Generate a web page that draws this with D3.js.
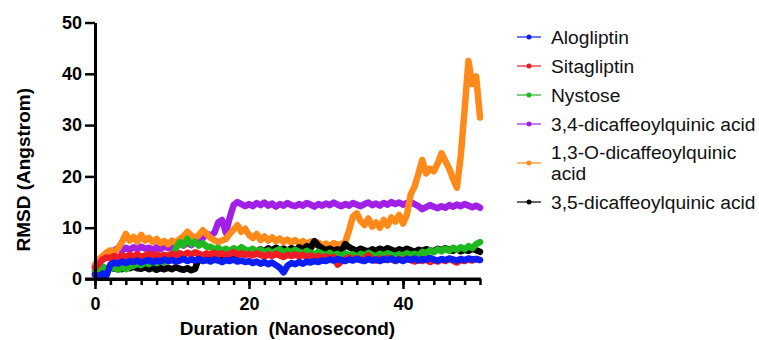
<!DOCTYPE html>
<html>
<head>
<meta charset="utf-8">
<script src="https://cdn.jsdelivr.net/npm/d3@7"></script>
<style>
  html, body { margin: 0; padding: 0; background: #fff; }
  svg { display: block; font-family: "Liberation Sans", Arial, sans-serif; }
</style>
</head>
<body>
<svg id="chart" width="759" height="340"></svg>
<script>
// ---- data (RMSD in Angstrom, sampled every 0.5 ns from 0 to 50 ns) ----
const timeNs = d3.range(101).map(i => i / 2);

const alogliptin = [
  0.8,0.6,1.0,0.7,2.8,3.2,3.0,3.4,3.1,3.5,
  3.3,3.6,3.2,3.5,3.7,3.3,3.6,3.4,3.8,3.5,
  3.7,3.4,3.6,3.9,3.5,3.8,3.6,3.9,3.5,3.7,
  3.4,3.8,3.6,3.3,3.7,3.5,3.8,3.4,3.6,3.3,
  3.5,3.1,3.4,3.0,3.3,2.9,3.2,2.7,2.2,1.3,
  2.6,3.1,2.9,3.3,3.0,3.4,3.2,3.5,3.3,3.6,
  3.5,3.8,3.6,3.9,3.7,3.5,3.8,3.6,3.9,3.7,
  3.5,3.9,3.6,3.8,3.5,3.9,3.7,4.0,3.6,3.8,
  3.5,3.9,3.7,4.0,3.6,3.9,3.7,4.1,3.8,3.6,
  3.9,3.7,4.0,3.8,3.6,3.9,3.7,4.0,3.8,3.9,
  3.7];

const sitagliptin = [
  2.2,3.0,3.8,4.2,4.0,4.5,4.2,4.6,4.3,4.7,
  4.4,4.8,4.3,4.6,4.9,4.5,4.8,4.4,4.7,4.5,
  4.9,4.6,5.0,4.7,5.1,4.8,5.2,4.9,4.6,5.0,
  4.8,5.1,4.7,5.0,4.6,4.9,5.2,4.8,5.0,4.7,
  4.9,4.6,5.0,4.7,4.4,4.8,4.5,4.9,4.6,4.3,
  4.7,4.5,4.8,4.4,4.7,4.3,4.6,4.2,4.5,4.1,
  4.4,4.0,4.3,2.8,3.4,3.9,4.2,3.8,4.1,3.7,
  4.0,4.6,3.9,3.6,4.0,3.7,4.1,3.8,3.5,3.9,
  3.6,4.0,3.7,3.4,3.8,3.5,3.9,3.3,3.7,3.4,
  3.8,3.5,3.9,3.6,3.2,3.7,3.5,3.8,3.6,3.9,
  3.7];

const nystose = [
  1.5,2.0,2.4,2.0,2.5,2.1,1.8,2.3,1.9,2.4,
  2.6,3.0,2.7,3.2,2.9,3.4,3.1,3.6,3.3,3.7,
  3.9,6.0,7.2,6.6,7.8,6.8,7.3,6.5,7.0,6.3,
  6.3,5.8,6.1,5.5,5.9,5.4,6.0,5.6,6.2,5.7,
  5.5,5.9,5.3,5.7,5.2,5.6,5.0,5.5,5.8,5.1,
  5.6,5.2,5.7,5.3,5.0,5.5,5.1,4.8,5.3,4.9,
  4.7,5.1,4.6,4.9,4.5,5.0,4.6,4.8,4.4,4.9,
  4.6,5.1,4.7,4.5,4.9,4.6,5.0,4.7,4.5,4.8,
  4.6,5.0,4.7,4.9,4.6,5.3,5.0,5.6,5.2,5.8,
  5.4,5.9,5.5,6.1,5.7,6.2,5.8,6.4,6.0,6.8,
  7.2];

const dcq34 = [
  2.5,3.2,3.8,4.5,5.0,5.6,6.0,5.5,6.1,5.7,
  6.2,5.8,6.3,5.9,6.1,5.6,6.2,5.8,6.4,6.0,
  6.3,6.6,6.9,6.5,7.0,6.6,7.2,6.8,8.0,8.8,
  8.5,9.0,11.0,11.5,9.0,12.0,14.4,15.0,14.6,14.2,
  14.6,14.2,14.8,14.4,14.9,14.3,14.7,14.1,14.6,14.3,
  14.8,14.4,14.2,14.6,14.3,14.8,14.5,14.1,14.6,14.3,
  14.7,14.4,14.9,14.5,14.2,14.6,14.3,14.8,14.5,14.2,
  14.6,14.9,14.4,14.7,14.3,14.8,14.5,15.0,14.6,14.9,
  14.5,14.8,15.0,14.6,14.2,13.6,14.0,14.4,14.1,13.8,
  14.2,13.9,14.4,14.1,14.5,14.2,14.6,14.3,14.0,14.3,
  13.9];

const dcq13O = [
  2.8,3.8,4.5,5.2,5.6,5.2,6.0,7.2,8.8,7.5,
  8.2,7.3,8.6,7.5,8.0,7.2,7.8,7.0,7.4,6.8,
  7.5,7.0,7.8,8.3,9.2,8.5,8.0,8.6,9.5,8.8,
  8.0,7.6,7.2,7.5,7.8,8.8,9.6,10.5,9.2,9.8,
  8.6,8.0,8.8,7.6,8.3,7.5,8.1,7.4,7.9,7.2,
  7.7,7.1,7.6,7.0,7.4,6.8,7.3,6.6,7.1,6.5,
  6.9,6.4,7.0,6.6,6.8,7.2,9.5,12.2,12.8,11.3,
  10.5,11.8,10.2,11.0,10.0,11.5,10.4,12.0,11.2,12.5,
  10.8,12.5,16.5,18.0,20.5,23.2,20.6,21.5,21.0,22.5,
  24.5,23.0,21.5,19.5,17.8,24.0,33.0,42.5,38.0,39.5,
  31.5];

const dcq35 = [
  1.0,1.3,1.6,1.9,2.3,2.0,2.2,1.9,2.3,2.1,
  2.4,2.1,2.0,2.3,1.9,2.2,1.8,2.1,1.9,2.2,
  1.9,2.3,2.0,1.8,2.1,1.7,2.0,4.2,4.6,4.3,
  4.7,4.4,4.8,4.5,4.9,4.6,5.0,4.7,5.1,4.8,
  5.2,4.9,5.4,5.8,5.4,6.0,5.5,6.1,5.7,5.9,
  5.5,6.0,5.6,6.2,5.8,6.4,6.0,7.4,6.5,6.0,
  5.6,5.9,5.5,5.8,5.4,6.8,6.2,5.8,5.5,5.9,
  5.6,5.4,5.8,5.5,5.9,5.6,6.0,5.7,5.4,5.8,
  5.5,5.9,5.6,5.3,5.7,5.5,5.8,5.6,5.4,5.9,
  5.6,6.0,5.7,5.5,5.8,5.4,5.7,5.5,5.9,5.6,
  5.3];

const seriesNames = ["Alogliptin", "Sitagliptin", "Nystose",
  "3,4-dicaffeoylquinic acid", "1,3-O-dicaffeoylquinic acid", "3,5-dicaffeoylquinic acid"];
const legendLabels = [["Alogliptin"], ["Sitagliptin"], ["Nystose"],
  ["3,4-dicaffeoylquinic acid"], ["1,3-O-dicaffeoylquinic", "acid"], ["3,5-dicaffeoylquinic acid"]];
const seriesValues = [alogliptin, sitagliptin, nystose, dcq34, dcq13O, dcq35];
const seriesColors = ["#0b1ff2", "#ee1c25", "#1fb81f", "#a21fe6", "#ff8a1a", "#000000"];
const drawOrder = [3, 4, 5, 2, 1, 0]; // bottom to top

const yTicks = [0, 10, 20, 30, 40, 50];
const xMajorTicks = [0, 20, 40];
const xMinorTicks = d3.range(0, 51, 2);
const xTitle = "Duration  (Nanosecond)";
const yTitle = "RMSD (Angstrom)";

// ---- layout ----
const svg = d3.select("#chart");
const x = d3.scaleLinear().domain([0, 50]).range([95, 480]);
const y = d3.scaleLinear().domain([0, 50]).range([279, 22.5]);

const line = d3.line().x((d, i) => x(timeNs[i])).y(d => y(d)).curve(d3.curveLinear);

const gLines = svg.append("g");
drawOrder.forEach(k => {
  gLines.append("path")
    .datum(seriesValues[k])
    .attr("d", line)
    .attr("fill", "none")
    .attr("stroke", seriesColors[k])
    .attr("stroke-width", 6.5)
    .attr("stroke-linejoin", "round")
    .attr("stroke-linecap", "round");
});

// axes
const fontTick = "18px";
const yAxis = svg.append("g").attr("transform", `translate(${x(0)},0)`)
  .call(d3.axisLeft(y).tickValues(yTicks).tickSize(10).tickSizeOuter(0).tickPadding(3));
const xMinor = svg.append("g").attr("transform", `translate(0,${y(0)})`)
  .call(d3.axisBottom(x).tickValues(xMinorTicks).tickSize(6).tickSizeOuter(0).tickFormat(""));
const xMajor = svg.append("g").attr("transform", `translate(0,${y(0)})`)
  .call(d3.axisBottom(x).tickValues(xMajorTicks).tickSize(10).tickSizeOuter(0).tickPadding(8));

[yAxis, xMinor, xMajor].forEach(g => {
  g.select(".domain").attr("stroke", "#000").attr("stroke-width", 3);
  g.selectAll(".tick line").attr("stroke", "#000").attr("stroke-width", 2.5);
  g.selectAll(".tick text").attr("fill", "#000")
    .style("font-size", fontTick).style("font-weight", "bold")
    .style("font-family", "'Liberation Sans', Arial, sans-serif");
});
xMajor.select(".domain").remove();
svg.append("line").attr("x1", x(0) - 10).attr("x2", x(50) + 1)
  .attr("y1", y(0)).attr("y2", y(0)).attr("stroke", "#000").attr("stroke-width", 3);

// axis titles
svg.append("text")
  .attr("transform", `translate(30,${(y(0) + y(50)) / 2 + 19}) rotate(-90)`)
  .attr("text-anchor", "middle")
  .style("font-size", "19px").style("font-weight", "bold")
  .text(yTitle);
svg.append("text")
  .attr("x", 287.5).attr("y", 335)
  .attr("text-anchor", "middle")
  .style("font-size", "19px").style("font-weight", "bold")
  .style("white-space", "pre")
  .attr("xml:space", "preserve")
  .text(xTitle);

// legend
const legendMarkY = [37, 66, 95, 124, 163, 202];
const lg = svg.append("g");
seriesNames.forEach((name, k) => {
  const yy = legendMarkY[k];
  const g = lg.append("g");
  g.append("line").attr("x1", 517).attr("x2", 541).attr("y1", yy).attr("y2", yy)
    .attr("stroke", seriesColors[k]).attr("stroke-width", 1.2);
  g.append("circle").attr("cx", 529).attr("cy", yy).attr("r", 2.5).attr("fill", seriesColors[k]);
  const lines = legendLabels[k];
  const t = g.append("text").attr("x", 551)
    .style("font-size", "19.2px").attr("fill", "#111");
  const lh = 21;
  const y0 = yy - (lines.length - 1) * lh / 2;
  lines.forEach((s, j) => {
    t.append("tspan").attr("x", 551).attr("y", y0 + j * lh).attr("dy", "0.35em").text(s);
  });
});
</script>
</body>
</html>
